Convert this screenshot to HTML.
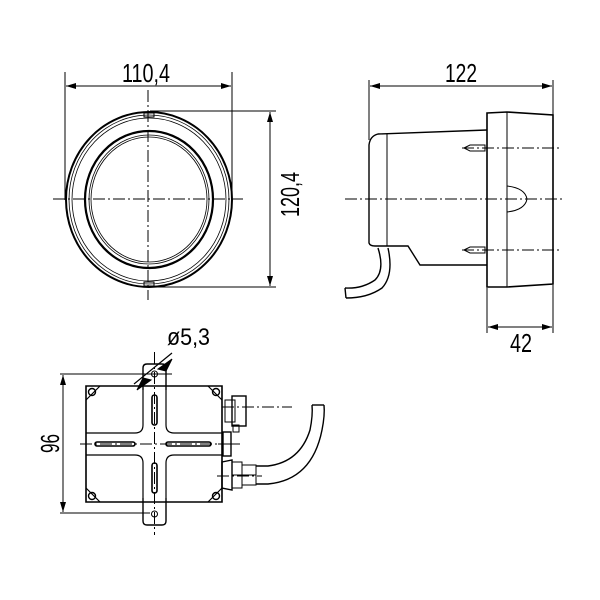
<!DOCTYPE html>
<html><head><style>html,body{margin:0;padding:0;background:#fff}svg{display:block}text{font-family:"Liberation Sans",sans-serif;fill:#000}</style></head>
<body>
<svg width="600" height="600" viewBox="0 0 600 600" xmlns="http://www.w3.org/2000/svg">
<defs>
<marker id="a" viewBox="0 0 10 6" refX="10" refY="3" markerWidth="14" markerHeight="6" markerUnits="userSpaceOnUse" orient="auto-start-reverse"><path d="M0,0L10,3L0,6z"/></marker>
</defs>
<g stroke="#000" fill="none" stroke-width="1">
<!-- FRONT VIEW -->
<line x1="65" y1="72" x2="65" y2="200"/><line x1="232" y1="72" x2="232" y2="200"/>
<line x1="66" y1="86" x2="231" y2="86" marker-start="url(#a)" marker-end="url(#a)"/>
<line x1="150" y1="111" x2="276" y2="111"/><line x1="150" y1="287" x2="276" y2="287"/>
<line x1="270" y1="112" x2="270" y2="286" marker-start="url(#a)" marker-end="url(#a)"/>
<ellipse cx="149" cy="199.5" rx="83" ry="87.5" stroke-width="2"/>
<ellipse cx="149" cy="199.5" rx="80" ry="84.5" stroke-width="0.8"/>
<ellipse cx="149" cy="199.5" rx="77" ry="81.5" stroke-width="0.8"/>
<ellipse cx="149" cy="199.5" rx="64" ry="68.5" stroke-width="2.2"/>
<ellipse cx="149" cy="199.5" rx="60" ry="64.5" stroke-width="0.8"/>
<ellipse cx="149" cy="199.5" rx="58" ry="62.5" stroke-width="0.8"/>
<rect x="144" y="113" width="10" height="4"/><rect x="144" y="282" width="10" height="4"/>
<line x1="53" y1="199" x2="243" y2="199" stroke-dasharray="12,3,2,3"/>
<line x1="148" y1="90" x2="148" y2="300" stroke-dasharray="12,3,2,3"/>
<!-- SIDE VIEW -->
<line x1="369" y1="80" x2="369" y2="140"/><line x1="553" y1="80" x2="553" y2="115"/>
<line x1="370" y1="86" x2="552" y2="86" marker-start="url(#a)" marker-end="url(#a)"/>
<path d="M487,113 L507,112 L553,115 L553,284 L507,287 L487,287 Z" stroke-width="1.6"/>
<line x1="507" y1="112" x2="507" y2="287"/>
<path d="M487,130 L378,134 Q370,136 369,145 L369,243 Q370,246 375,246 L408,246 L420,265 L487,265" stroke-width="1.4"/>
<line x1="387" y1="134" x2="387" y2="246"/>
<path d="M378,248 Q385,270 375,280 Q362,289 345,288 M388,248 Q394,275 382,288 Q368,298 346,298" stroke-width="1.4"/>
<line x1="345" y1="288" x2="346" y2="298" stroke-width="1.4"/>
<path d="M507,186 Q525,188 527,199 Q525,210 507,212"/>
<line x1="462" y1="148" x2="560" y2="148" stroke-dasharray="12,3,2,3"/>
<line x1="462" y1="250" x2="560" y2="250" stroke-dasharray="12,3,2,3"/>
<path d="M464,148 L470,145 L485,145 L485,151 L470,151 Z"/>
<path d="M464,250 L470,247 L485,247 L485,253 L470,253 Z"/>
<line x1="345" y1="199" x2="562" y2="199" stroke-dasharray="12,3,2,3"/>
<line x1="487" y1="288" x2="487" y2="333"/><line x1="553" y1="285" x2="553" y2="333"/>
<line x1="488" y1="327" x2="552" y2="327" marker-start="url(#a)" marker-end="url(#a)"/>
<!-- BOTTOM VIEW -->
<line x1="60" y1="374" x2="172" y2="374"/><line x1="60" y1="513" x2="150" y2="513"/>
<line x1="63" y1="375" x2="63" y2="512" marker-start="url(#a)" marker-end="url(#a)"/>
<path d="M86,386 L222,386 L222,502 L86,502 Z" stroke-width="1.6"/>
<path d="M143,390 L143,368 Q143,364 147,364 L162,364 Q166,364 166,368 L166,390" stroke-width="1.4"/>
<path d="M143,498 L143,521 Q143,525 147,525 L162,525 Q166,525 166,521 L166,498" stroke-width="1.4"/>
<circle cx="154.5" cy="374" r="3"/><circle cx="154.5" cy="514" r="3"/>
<path d="M143,390 L143,425 Q143,433 135,433 L86,433 M166,390 L166,425 Q166,433 174,433 L222,433 M86,455 L135,455 Q143,455 143,463 L143,498 M166,498 L166,463 Q166,455 174,455 L222,455" stroke-width="1.2"/>
<rect x="152" y="395" width="5" height="30" rx="2.5" stroke-width="1.6"/>
<rect x="152" y="463" width="5" height="30" rx="2.5" stroke-width="1.6"/>
<rect x="95" y="442" width="40" height="4" rx="2" stroke-width="1.6"/>
<rect x="166" y="442" width="45" height="4" rx="2" stroke-width="1.6"/>
<path d="M86,400 L100,386 M208,386 L222,400 M86,488 L100,502 M208,502 L222,488" stroke-width="1.2"/>
<circle cx="92" cy="392" r="3.5" stroke-width="1.4"/><circle cx="216" cy="392" r="3.5" stroke-width="1.4"/>
<circle cx="92" cy="496" r="3.5" stroke-width="1.4"/><circle cx="216" cy="496" r="3.5" stroke-width="1.4"/>
<line x1="154.5" y1="352" x2="154.5" y2="535" stroke-dasharray="12,3,2,3"/>
<line x1="80" y1="444" x2="232" y2="444" stroke-dasharray="12,3,2,3"/>
<rect x="225" y="400" width="10" height="22"/><rect x="232" y="396" width="14" height="30" stroke-width="1.4"/>
<rect x="233" y="425" width="6" height="7"/>
<line x1="222" y1="407" x2="292" y2="407" stroke-dasharray="12,3,2,3"/>
<rect x="223" y="432" width="8" height="24" stroke-width="1.4"/>
<line x1="218" y1="444" x2="240" y2="444"/>
<path d="M222,462 L232,460 L232,490 L222,488 Z" stroke-width="1.4"/>
<rect x="232" y="462" width="10" height="26"/><rect x="242" y="465" width="14" height="20"/>
<line x1="232" y1="475" x2="256" y2="475"/>
<path d="M256,466 L268,466 Q300,462 310,430 Q313,415 312,405 M256,484 L268,484 Q312,480 322,430 Q325,415 324,405" stroke-width="1.4"/>
<line x1="312" y1="405" x2="324" y2="405" stroke-width="1.4"/>
<line x1="217" y1="476" x2="262" y2="476" stroke-dasharray="12,3,2,3"/>
<line x1="172" y1="353" x2="134" y2="384" stroke-width="1.2"/>
<path d="M158,369 L172,359 L166,371 Z" fill="#000"/>
<path d="M151,380 L137,390 L143,378 Z" fill="#000"/>
</g>
<text x="122" y="82" font-size="26" textLength="48" lengthAdjust="spacingAndGlyphs">110,4</text>
<text x="445" y="82" font-size="26" textLength="32" lengthAdjust="spacingAndGlyphs">122</text>
<text x="510" y="352" font-size="26" textLength="22" lengthAdjust="spacingAndGlyphs">42</text>
<text x="167" y="345" font-size="24" textLength="43" lengthAdjust="spacingAndGlyphs">ø5,3</text>
<text transform="translate(299,217) rotate(-90)" font-size="26" textLength="45" lengthAdjust="spacingAndGlyphs">120,4</text>
<text transform="translate(59,453) rotate(-90)" font-size="26" textLength="19" lengthAdjust="spacingAndGlyphs">96</text>
</svg>
</body></html>
